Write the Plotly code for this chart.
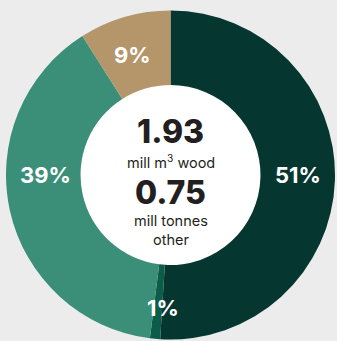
import math
import plotly.graph_objects as go

# Share of volume by category (percent), clockwise from 12 o'clock
shares = [51, 1, 39, 9]
slice_colors = ["#063630", "#0b5c48", "#3b8f78", "#b5966a"]

# Headline totals shown in the centre of the donut
wood_total = 1.93
other_total = 0.75

W, H = 337, 341
cx, cy, R = 170.5, 175.0, 164.5   # donut centre and outer radius (px)
HOLE = 0.547

fig = go.Figure()
fig.add_trace(go.Pie(
    values=shares,
    sort=False,
    direction="clockwise",
    rotation=0,
    hole=HOLE,
    marker=dict(colors=slice_colors, line=dict(width=0)),
    textinfo="none",
    hoverinfo="skip",
    showlegend=False,
    domain=dict(x=[(cx - R) / W, (cx + R) / W],
                y=[(H - cy - R) / H, (H - cy + R) / H]),
))

# White disc behind the hole
r_in = R * HOLE
fig.add_shape(type="circle", xref="paper", yref="paper", layer="below",
              x0=(cx - r_in) / W, x1=(cx + r_in) / W,
              y0=(H - cy - r_in) / H, y1=(H - cy + r_in) / H,
              fillcolor="white", line=dict(width=0))

# Percentage labels: (angle clockwise from top in degrees, radius in px)
label_spots = [(90, 127), (183.2, 133), (270, 125.5), (342.6, 126)]
annotations = []
for v, (ang, rad) in zip(shares, label_spots):
    a = math.radians(ang)
    px = cx + rad * math.sin(a)
    py = cy - rad * math.cos(a)
    annotations.append(dict(
        x=px / W, y=1 - py / H, xref="paper", yref="paper",
        text=f"{v}%", showarrow=False, xanchor="center", yanchor="middle",
        font=dict(family="Inter", size=22, color="white", weight=700)))

dark = "#231f20"
centre_lines = [
    (f"{wood_total:.2f}", 131, 32, 800),
    ("mill m<sup>3</sup> wood", 161, 14.5, 400),
    (f"{other_total:.2f}", 192, 32, 800),
    ("mill tonnes<br>other", 230, 14.5, 400),
]
for txt, ypx, size, weight in centre_lines:
    annotations.append(dict(
        x=cx / W, y=1 - ypx / H, xref="paper", yref="paper",
        text=txt, showarrow=False, xanchor="center", yanchor="middle",
        font=dict(family="Inter", size=size, color=dark, weight=weight)))

fig.update_layout(
    width=W, height=H,
    margin=dict(l=0, r=0, t=0, b=0),
    paper_bgcolor="#ececec",
    plot_bgcolor="#ececec",
    annotations=annotations,
)

fig.write_html("out.html", config={"displayModeBar": False})
